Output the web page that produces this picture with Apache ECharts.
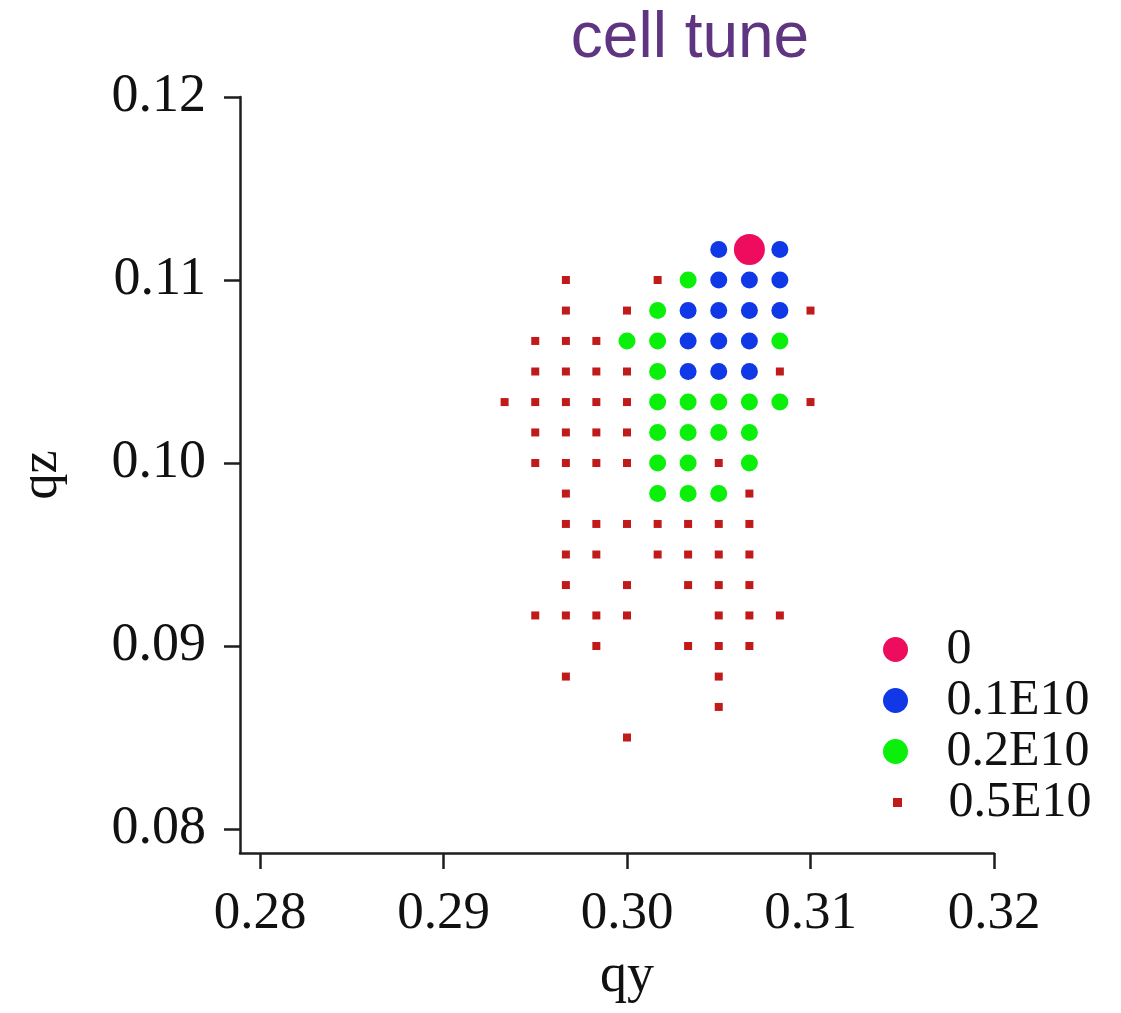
<!DOCTYPE html>
<html>
<head>
<meta charset="utf-8">
<title>cell tune</title>
<script src="https://cdn.jsdelivr.net/npm/echarts@6/dist/echarts.min.js"></script>
<style>
  html, body { margin: 0; padding: 0; background: #ffffff; }
  #chart { width: 1121px; height: 1013px; }
</style>
</head>
<body>
<div id="chart"></div>
<script>
// Tune points (qy, qz) for each beam intensity
const seriesNames = ['0', '0.1E10', '0.2E10', '0.5E10'];

const tuneZero = [[0.30667, 0.11167]];

const tune01E10 = [
  [0.30500, 0.11167], [0.30833, 0.11167],
  [0.30500, 0.11000], [0.30667, 0.11000], [0.30833, 0.11000],
  [0.30333, 0.10833], [0.30500, 0.10833], [0.30667, 0.10833], [0.30833, 0.10833],
  [0.30333, 0.10667], [0.30500, 0.10667], [0.30667, 0.10667],
  [0.30333, 0.10500], [0.30500, 0.10500], [0.30667, 0.10500]
];

const tune02E10 = [
  [0.30333, 0.11000],
  [0.30167, 0.10833],
  [0.30000, 0.10667], [0.30167, 0.10667], [0.30833, 0.10667],
  [0.30167, 0.10500],
  [0.30167, 0.10333], [0.30333, 0.10333], [0.30500, 0.10333], [0.30667, 0.10333], [0.30833, 0.10333],
  [0.30167, 0.10167], [0.30333, 0.10167], [0.30500, 0.10167], [0.30667, 0.10167],
  [0.30167, 0.10000], [0.30333, 0.10000], [0.30667, 0.10000],
  [0.30167, 0.09833], [0.30333, 0.09833], [0.30500, 0.09833]
];

const tune05E10 = [
  [0.29667, 0.11000], [0.30167, 0.11000],
  [0.29667, 0.10833], [0.30000, 0.10833], [0.31000, 0.10833],
  [0.29500, 0.10667], [0.29667, 0.10667], [0.29833, 0.10667],
  [0.29500, 0.10500], [0.29667, 0.10500], [0.29833, 0.10500], [0.30000, 0.10500], [0.30833, 0.10500],
  [0.29333, 0.10333], [0.29500, 0.10333], [0.29667, 0.10333], [0.29833, 0.10333], [0.30000, 0.10333], [0.31000, 0.10333],
  [0.29500, 0.10167], [0.29667, 0.10167], [0.29833, 0.10167], [0.30000, 0.10167],
  [0.29500, 0.10000], [0.29667, 0.10000], [0.29833, 0.10000], [0.30000, 0.10000], [0.30500, 0.10000],
  [0.29667, 0.09833], [0.30667, 0.09833],
  [0.29667, 0.09667], [0.29833, 0.09667], [0.30000, 0.09667], [0.30167, 0.09667], [0.30333, 0.09667], [0.30500, 0.09667], [0.30667, 0.09667],
  [0.29667, 0.09500], [0.29833, 0.09500], [0.30167, 0.09500], [0.30333, 0.09500], [0.30500, 0.09500], [0.30667, 0.09500],
  [0.29667, 0.09333], [0.30000, 0.09333], [0.30333, 0.09333], [0.30500, 0.09333], [0.30667, 0.09333],
  [0.29500, 0.09167], [0.29667, 0.09167], [0.29833, 0.09167], [0.30000, 0.09167], [0.30500, 0.09167], [0.30667, 0.09167], [0.30833, 0.09167],
  [0.29833, 0.09000], [0.30333, 0.09000], [0.30500, 0.09000], [0.30667, 0.09000],
  [0.29667, 0.08833], [0.30500, 0.08833],
  [0.30500, 0.08667],
  [0.30000, 0.08500]
];

// Tick labels on each axis
const qyTicks = [0.28, 0.29, 0.30, 0.31, 0.32];
const qzTicks = [0.08, 0.09, 0.10, 0.11, 0.12];

const serif = '"Liberation Serif", "Times New Roman", "DejaVu Serif", serif';
const axisColor = '#1e1e1e';

const chart = echarts.init(document.getElementById('chart'), null, { renderer: 'canvas' });

chart.setOption({
  backgroundColor: '#ffffff',
  animation: false,
  title: {
    text: 'cell tune',
    left: 685,
    top: 2,
    textAlign: 'center',
    textStyle: {
      fontFamily: '"Liberation Sans", Arial, sans-serif',
      fontSize: 64,
      fontWeight: 'normal',
      color: '#5f3480'
    }
  },
  grid: { left: 240, right: 127, top: 97, bottom: 160, containLabel: false },
  xAxis: {
    type: 'value',
    min: 0.27891,
    max: 0.32,
    name: 'qy',
    nameLocation: 'middle',
    nameGap: 97,
    nameTextStyle: { fontFamily: serif, fontSize: 54, color: '#111', padding: [0, 0, 0, 20] },
    splitLine: { show: false },
    axisLine: { show: true, lineStyle: { color: axisColor, width: 2.5 } },
    axisTick: { show: true, length: 16, lineStyle: { color: axisColor, width: 2.5 }, customValues: qyTicks },
    axisLabel: {
      show: true, margin: 35, fontFamily: serif, fontSize: 53, color: '#111',
      customValues: qyTicks,
      formatter: v => v.toFixed(2)
    }
  },
  yAxis: {
    type: 'value',
    min: 0.078689,
    max: 0.12,
    name: 'qz',
    nameLocation: 'middle',
    nameGap: 172,
    nameTextStyle: { fontFamily: serif, fontSize: 52, color: '#111' },
    splitLine: { show: false },
    axisLine: { show: true, lineStyle: { color: axisColor, width: 2.5 } },
    axisTick: { show: true, length: 16, lineStyle: { color: axisColor, width: 2.5 }, customValues: qzTicks },
    axisLabel: {
      show: true, margin: 34, fontFamily: serif, fontSize: 54, color: '#111',
      customValues: qzTicks,
      formatter: v => v.toFixed(2)
    }
  },
  legend: [
    {
      orient: 'vertical',
      left: 878,
      top: 619,
      itemWidth: 92,
      itemHeight: 25,
      itemGap: 0,
      data: seriesNames.slice(0, 3),
      textStyle: { fontFamily: serif, fontSize: 50, lineHeight: 51, color: '#111' }
    },
    {
      orient: 'vertical',
      left: 888,
      top: 772,
      itemWidth: 92,
      itemHeight: 9,
      itemGap: 0,
      data: [{ name: seriesNames[3], icon: 'path://M0,0L1,0L1,1L0,1Z' }],
      textStyle: { fontFamily: serif, fontSize: 50, lineHeight: 51, color: '#111' }
    }
  ],
  series: [
    {
      name: seriesNames[0], type: 'scatter', symbol: 'circle', symbolSize: 31,
      itemStyle: { color: '#ee0c5f', opacity: 1 }, data: tuneZero, z: 5
    },
    {
      name: seriesNames[1], type: 'scatter', symbol: 'circle', symbolSize: 17,
      itemStyle: { color: '#1038e6', opacity: 1 }, data: tune01E10, z: 4
    },
    {
      name: seriesNames[2], type: 'scatter', symbol: 'circle', symbolSize: 17,
      itemStyle: { color: '#0af00a', opacity: 1 }, data: tune02E10, z: 3
    },
    {
      name: seriesNames[3], type: 'scatter', symbol: 'rect', symbolSize: 8,
      itemStyle: { color: '#c01a1a', opacity: 1 }, data: tune05E10, z: 2
    }
  ]
});
</script>
</body>
</html>
